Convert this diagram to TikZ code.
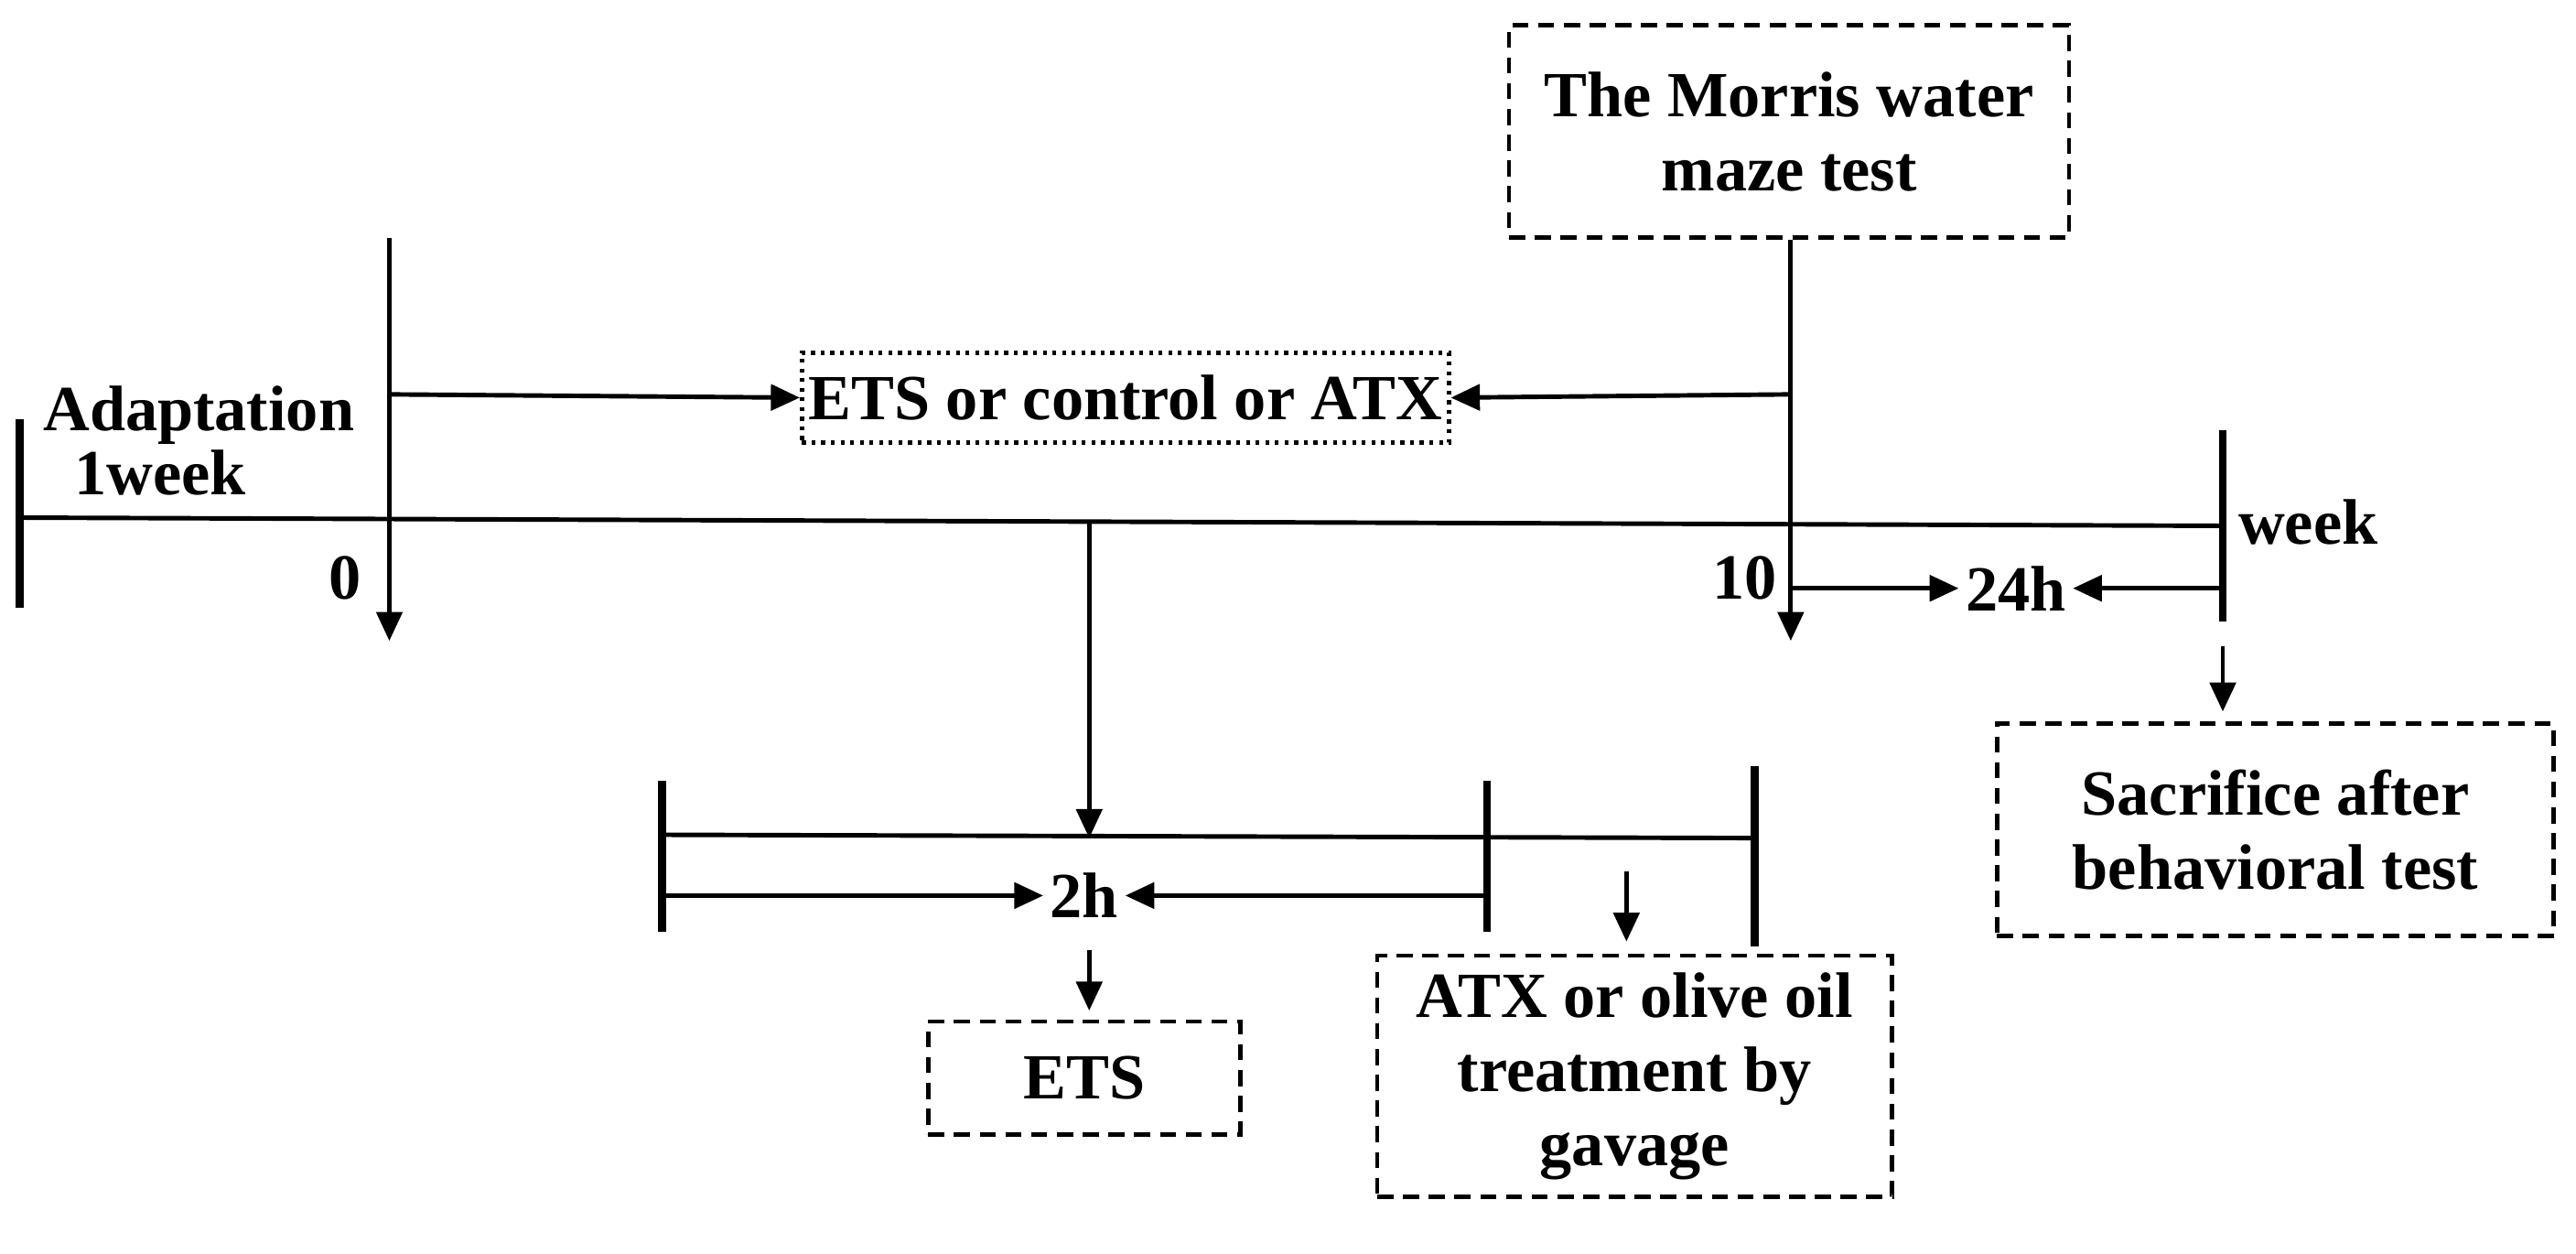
\documentclass[tikz,border=0pt]{standalone}
\usepackage{fontspec}
\setmainfont{Liberation Serif}
\usetikzlibrary{arrows.meta}
\begin{document}
\begin{tikzpicture}[x=0.01795cm,y=-0.01795cm,
  ln/.style={line width=1.4pt},
  tk/.style={line width=2.4pt},
  ar/.style={line width=1.4pt,-{Triangle[length=9pt,width=8pt]}},
  txt/.style={font=\bfseries\fontsize{20}{23}\selectfont,align=center,inner sep=2pt},
  bx/.style={txt,draw,line width=1.3pt,dash pattern=on 5pt off 3pt},
  dbx/.style={txt,draw,line width=1.3pt,dash pattern=on 1.2pt off 1.8pt}]
\useasboundingbox (0,0) rectangle (1568,763);
% main timeline
\coordinate (L) at (12,315); \coordinate (R) at (1353,320);
\draw[ln] (L) -- (R);
\draw[tk] (12,255) -- (12,370);
\draw[tk] (1353,262) -- (1353,378);
\node[txt,anchor=west] at (22,268) {Adaptation\\[-3pt]\hspace*{-1.2em}1week};
\node[txt] at (1405,318) {week};
% week 0
\coordinate (z0) at (237,145); \coordinate (z1) at (237,390);
\draw[ar] (z0) -- (z1);
\node[txt] at (210,352) {0};
% ETS box
\node[dbx,minimum height=28pt] (ets) at (685,242) {ETS or control or ATX};
\coordinate (a0) at (237,240); \draw[ar] (a0) -- (ets.west);
\coordinate (b0) at (1090,240); \draw[ar] (b0) -- (ets.east);
% week 10
\node[bx,minimum width=174pt,minimum height=66pt] (mw) at (1089,80) {The Morris water\\maze test};
\coordinate (t1) at (1090,390);
\draw[ar] (mw.south -| t1) -- (t1);
\node[txt] at (1062,352) {10};
% 24h
\node[txt] (h24) at (1227,358) {24h};
\coordinate (c0) at (1090,358); \coordinate (c1) at (1353,358);
\draw[ar] (c0) -- (h24.west);
\draw[ar] (c1) -- (h24.east);
\coordinate (s0) at (1353,393); \coordinate (s1) at (1353,433);
\draw[ar] (s0) -- (s1);
\node[bx,minimum width=173pt,minimum height=66pt] (sac) at (1385,505) {Sacrifice after\\behavioral test};
% down to sub timeline
\coordinate (m0) at (663,317); \coordinate (m1) at (663,510);
\draw[ar] (m0) -- (m1);
\draw[ln] (403,508) -- (1068,510);
\draw[tk] (403,475) -- (403,567);
\draw[tk] (905,475) -- (905,567);
\draw[tk] (1068,466) -- (1068,576);
\node[txt] (h2) at (660,545) {2h};
\coordinate (d0) at (403,545); \coordinate (d1) at (905,545);
\draw[ar] (d0) -- (h2.west);
\draw[ar] (d1) -- (h2.east);
\coordinate (e0) at (663,578); \coordinate (e1) at (663,615);
\draw[ar] (e0) -- (e1);
\node[bx,minimum width=97pt,minimum height=35pt] (etsb) at (660,656) {ETS};
\coordinate (f0) at (990,530); \coordinate (f1) at (990,573);
\draw[ar] (f0) -- (f1);
\node[bx,minimum width=160pt,minimum height=75pt] (atx) at (995,655) {ATX or olive oil\\treatment by\\gavage};
\end{tikzpicture}
\end{document}
